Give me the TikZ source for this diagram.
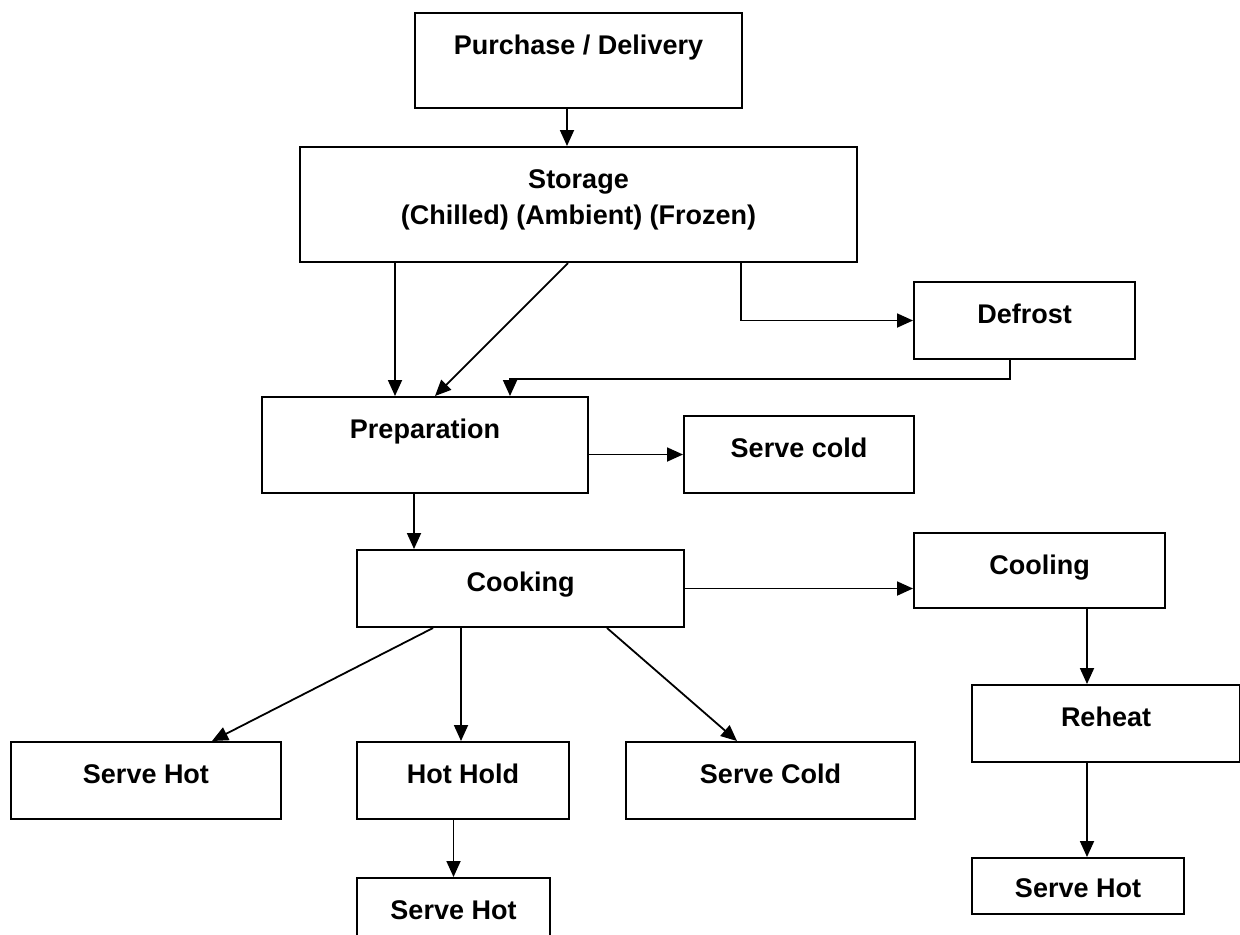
\documentclass[tikz,border=0pt]{standalone}
\usepackage{fontspec}
\setmainfont{Liberation Sans}
\usetikzlibrary{arrows.meta,calc,positioning}
\tikzstyle{stage} = [rectangle, draw=black, line width=1pt, inner xsep=0pt, inner ysep=0pt, anchor=north west, text height=20.5pt, font=\bfseries\fontsize{13.5}{18}\selectfont]
\tikzstyle{flow} = [black, draw, line width=0.9pt, -{Triangle[length=8pt,width=7pt]}]

\begin{document}
\begin{tikzpicture}[x=0.5pt, y=-0.5pt]
            \useasboundingbox (0,0) rectangle (1240,934);

            % stages, top to bottom
            \node[stage, minimum width=163.5pt, text depth=27pt] at (414,12) (buy) {Purchase / Delivery};
            \node[stage, minimum width=278.5pt, text height=38.5pt, text depth=19pt, align=center] at (299,146) (store) {Storage\\(Chilled) (Ambient) (Frozen)};
            \node[stage, minimum width=110.5pt, text depth=18pt] at (913,281) (defrost) {Defrost};
            \node[stage, minimum width=163pt, text depth=27.5pt] at (261,396) (prep) {Preparation};
            \node[stage, minimum width=115pt, text depth=18pt] at (683,415) (coldA) {Serve cold};
            \node[stage, minimum width=163.5pt, text depth=18pt] at (356,549) (cook) {Cooking};
            \node[stage, minimum width=125.5pt, text depth=17pt] at (913,532) (cool) {Cooling};

            % end points
            \node[stage, minimum width=135pt, text depth=18pt] at (10,741) (hotA) {Serve Hot};
            \node[stage, minimum width=106pt, text depth=18pt] at (356,741) (hold) {Hot Hold};
            \node[stage, minimum width=144.5pt, text depth=18pt] at (625,741) (coldB) {Serve Cold};
            \node[stage, minimum width=134pt, text depth=18pt] at (971,684) (reheat) {Reheat};
            \node[stage, minimum width=96.5pt, text depth=18pt] at (356,877) (hotB) {Serve Hot};
            \node[stage, minimum width=106pt, text depth=8.5pt, text height=19.5pt] at (971,857) (hotC) {Serve Hot};

            % connectors
            \draw[flow] ($(buy.south west)+(153,0)$) coordinate (b1) -- (b1 |- store.north);
            \draw[flow] ($(store.south west)+(96,0)$) coordinate (s1) -- (s1 |- prep.north);
            \draw[flow] ($(store.south west)+(269,0)$) -- ($(prep.north west)+(174,0)$);
            \draw[flow] ($(store.south west)+(442,0)$) |- (defrost.west);
            \draw[flow] ($(defrost.south west)+(97,0)$) -- ++(0,19) -| ($(prep.north west)+(249,0)$);
            \draw[flow] (coldA.west -| prep.east) -- (coldA.west);
            \draw[flow] ($(prep.south west)+(153,0)$) coordinate (p1) -- (p1 |- cook.north);
            \draw[flow] (cook.east) -- (cook.east -| cool.west);
            \draw[flow] ($(cook.south west)+(77,0)$) -- ($(hotA.north west)+(202,0)$);
            \draw[flow] ($(cook.south west)+(105,0)$) coordinate (k1) -- (k1 |- hold.north);
            \draw[flow] ($(cook.south west)+(251,0)$) -- ($(coldB.north west)+(112,0)$);
            \draw[flow] (hotB.north |- hold.south) -- (hotB.north);
            \draw[flow] ($(cool.south west)+(174,0)$) coordinate (c1) -- (c1 |- reheat.north);
            \draw[flow] (c1 |- reheat.south) -- (c1 |- hotC.north);

\end{tikzpicture}
\end{document}
